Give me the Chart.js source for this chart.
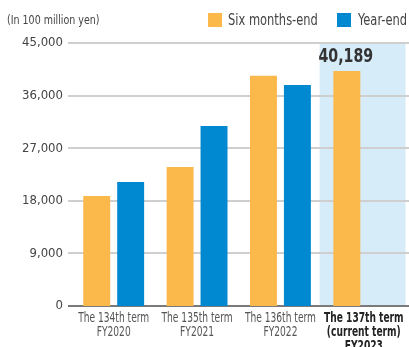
<!DOCTYPE html>
<html lang="en">
<head>
    <meta charset="UTF-8">
    <title>Balance by term</title>
    <script src="https://cdn.jsdelivr.net/npm/chart.js"></script>
    <style>
        body {
            margin: 0;
            padding: 0;
            background-color: #ffffff;
            font-family: 'DejaVu Sans Condensed', 'DejaVu Sans', sans-serif;
            color: #444;
        }
        .wrap {
            position: relative;
            width: 409px;
            height: 347px;
            overflow: hidden;
        }
        .unit {
            position: absolute;
            left: 7px;
            top: 13px;
            font-size: 12px;
            color: #444;
            white-space: nowrap;
            transform: scaleX(0.88);
            transform-origin: left top;
        }
        .legend-box {
            position: absolute;
            top: 13px;
            width: 14px;
            height: 14px;
        }
        .legend-text {
            position: absolute;
            top: 11px;
            font-size: 15px;
            line-height: 18px;
            white-space: nowrap;
            color: #444;
            transform: scaleX(0.85);
            transform-origin: left top;
        }
    </style>
</head>
<body>
    <div class="wrap">
        <canvas id="termChart" width="409" height="347"></canvas>
        <div class="unit">(In 100 million yen)</div>
        <div class="legend-box" style="left: 208px; background: #fbb84b;"></div>
        <div class="legend-text" style="left: 228px;">Six months-end</div>
        <div class="legend-box" style="left: 337px; background: #0088d1;"></div>
        <div class="legend-text" style="left: 358px;">Year-end</div>
    </div>

    <script>
        // Data
        const terms = [
            ['The 134th term', 'FY2020'],
            ['The 135th term', 'FY2021'],
            ['The 136th term', 'FY2022'],
            ['The 137th term', '(current term)', 'FY2023']
        ];
        const sixMonthsEnd = [18800, 23800, 39400, 40189];
        const yearEnd = [21200, 30800, 37800, null];
        const yTicks = [0, 9000, 18000, 27000, 36000, 45000];
        const currentIndex = 3;

        const FONT = "'DejaVu Sans Condensed', 'DejaVu Sans', sans-serif";

        // Light blue band behind the current term, then the horizontal rules
        const backdropPlugin = {
            id: 'backdrop',
            beforeDatasetsDraw(chart) {
                const { ctx, chartArea, scales } = chart;
                const x = scales.x, y = scales.y;
                const catW = x.getPixelForValue(1) - x.getPixelForValue(0);
                const cx = x.getPixelForValue(currentIndex);
                const left = cx - catW * 0.53;
                const right = cx + catW * 0.5;
                ctx.save();
                ctx.fillStyle = '#d6ecf9';
                ctx.fillRect(left, chartArea.top + 1, right - left, chartArea.bottom - chartArea.top - 1);

                yTicks.forEach(v => {
                    const py = Math.round(y.getPixelForValue(v));
                    ctx.beginPath();
                    ctx.lineWidth = 2;
                    ctx.strokeStyle = v === 0 ? '#7a7a7a' : '#cfcfcf';
                    ctx.moveTo(chartArea.left - 4, py);
                    ctx.lineTo(chart.width, py);
                    ctx.stroke();
                });
                ctx.restore();
            }
        };

        // Narrow text helper: draws centred text squeezed horizontally
        function narrowText(ctx, text, x, y, squeeze) {
            ctx.save();
            ctx.translate(x, y);
            ctx.scale(squeeze, 1);
            ctx.fillText(text, 0, 0);
            ctx.restore();
        }

        // Category labels and the value callout above the current term's bar
        const labelPlugin = {
            id: 'labels',
            afterDatasetsDraw(chart) {
                const { ctx, chartArea, scales } = chart;
                ctx.save();
                ctx.textAlign = 'center';
                ctx.textBaseline = 'middle';
                terms.forEach((lines, i) => {
                    const cx = scales.x.getPixelForValue(i);
                    const bold = i === currentIndex;
                    ctx.font = (bold ? 'bold ' : '') + '13.5px ' + FONT;
                    ctx.fillStyle = bold ? '#222' : '#555';
                    lines.forEach((line, k) => {
                        narrowText(ctx, line, cx, chartArea.bottom + 12 + k * 14, 0.75);
                    });
                });

                const bar = chart.getDatasetMeta(0).data[currentIndex];
                ctx.font = 'bold 19px ' + FONT;
                ctx.fillStyle = '#333';
                ctx.textBaseline = 'bottom';
                narrowText(ctx, sixMonthsEnd[currentIndex].toLocaleString('en-US'), bar.x - 1, bar.y - 5, 0.83);
                ctx.restore();
            }
        };

        const termChart = new Chart(document.getElementById('termChart'), {
            type: 'bar',
            data: {
                labels: terms,
                datasets: [
                    {
                        label: 'Six months-end',
                        data: sixMonthsEnd,
                        backgroundColor: '#fbb84b',
                        categoryPercentage: 0.814,
                        barPercentage: 0.794
                    },
                    {
                        label: 'Year-end',
                        data: yearEnd,
                        backgroundColor: '#0088d1',
                        categoryPercentage: 0.814,
                        barPercentage: 0.794
                    }
                ]
            },
            options: {
                responsive: false,
                animation: false,
                layout: {
                    padding: { top: 43, right: 3.5, left: 0, bottom: 0 }
                },
                plugins: {
                    legend: { display: false },
                    tooltip: { enabled: false }
                },
                scales: {
                    x: {
                        grid: { display: false, drawTicks: false },
                        border: { display: false },
                        ticks: { display: false },
                        afterFit(scale) {
                            scale.height = 41;
                            scale.paddingLeft = 0;
                            scale.paddingRight = 0;
                        }
                    },
                    y: {
                        min: 0,
                        max: 45000,
                        afterBuildTicks(scale) {
                            scale.ticks = yTicks.map(v => ({ value: v }));
                        },
                        grid: { display: false, drawTicks: false },
                        border: { display: false },
                        ticks: {
                            padding: 9,
                            color: '#444',
                            font: { family: FONT, size: 13 },
                            callback: v => v.toLocaleString('en-US')
                        },
                        afterFit(scale) { scale.width = 72; }
                    }
                }
            },
            plugins: [backdropPlugin, labelPlugin]
        });
    </script>
</body>
</html>
